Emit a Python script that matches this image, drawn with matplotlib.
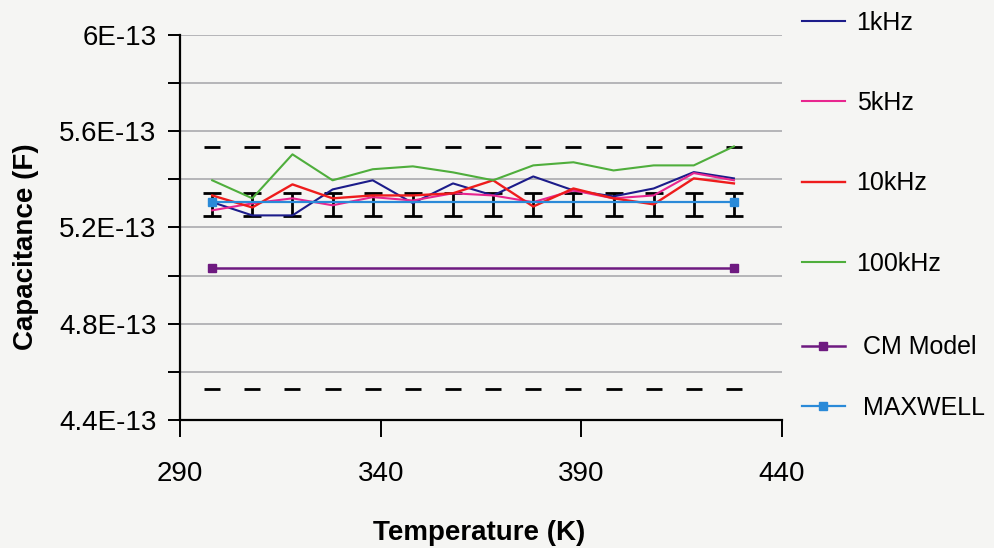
import numpy as np
import matplotlib
matplotlib.use("Agg")
import matplotlib.pyplot as plt

plt.rcParams['font.family'] = ['Liberation Sans', 'DejaVu Sans']

# temperature points (K)
temps = [298, 308, 318, 328, 338, 348, 358, 368, 378, 388, 398, 408, 418, 428]

# capacitance in units of 1E-13 F
c_1k = [5.305, 5.25, 5.25, 5.358, 5.396, 5.301, 5.383, 5.333, 5.412, 5.354, 5.329, 5.362, 5.430, 5.404]
c_5k = [5.271, 5.300, 5.321, 5.292, 5.326, 5.312, 5.342, 5.333, 5.305, 5.354, 5.321, 5.333, 5.426, 5.396]
c_10k = [5.333, 5.283, 5.379, 5.321, 5.333, 5.333, 5.342, 5.396, 5.287, 5.362, 5.321, 5.296, 5.404, 5.383]
c_100k = [5.396, 5.321, 5.504, 5.396, 5.442, 5.454, 5.429, 5.396, 5.458, 5.471, 5.437, 5.458, 5.458, 5.537]

cm_temps = [298, 428]
cm_model = [5.03, 5.03]
maxwell_temps = [298, 428]
maxwell = [5.305, 5.305]

err_center = 5.295
err_half = 0.048
band_upper = 5.533   # CM model +10%
band_lower = 4.527   # CM model -10%

yticks = [4.4, 4.8, 5.2, 5.6, 6.0]
ytick_labels = ['4.4E-13', '4.8E-13', '5.2E-13', '5.6E-13', '6E-13']
yminor = [4.6, 5.0, 5.4, 5.8]
xticks = [290, 340, 390, 440]

scale = 1e-13
bg = '#f5f5f3'

fig = plt.figure(figsize=(9.95, 5.48), dpi=100, facecolor=bg)
ax = fig.add_axes([0.181, 0.234, 0.605, 0.702], facecolor=bg)

def s(v):
    return np.array(v) * scale

ax.plot(temps, s(c_1k), color='#1c1c8a', lw=1.5, label='1kHz', zorder=4)
ax.plot(temps, s(c_5k), color='#e8268f', lw=1.5, label='5kHz', zorder=4)
ax.plot(temps, s(c_10k), color='#ee1c1c', lw=1.7, label='10kHz', zorder=4)
ax.plot(temps, s(c_100k), color='#4fae3c', lw=1.5, label='100kHz', zorder=4)
ax.plot(cm_temps, s(cm_model), color='#6e1a80', lw=1.8, marker='s', ms=6,
        label='CM Model', zorder=4)
ax.plot(maxwell_temps, s(maxwell), color='#2a8ad8', lw=1.6, marker='s', ms=6,
        label='MAXWELL', zorder=5)

# error bars around the MAXWELL value
ax.errorbar(temps, s([err_center] * len(temps)), yerr=err_half * scale, fmt='none',
            ecolor='black', elinewidth=2, capsize=6.5, capthick=2, zorder=3)

# +/-10% limits drawn as dash markers
ax.plot(temps, s([band_upper] * len(temps)), ls='none', marker='_', ms=11, mew=2,
        color='black', zorder=3)
ax.plot(temps, s([band_lower] * len(temps)), ls='none', marker='_', ms=11, mew=2,
        color='black', zorder=3)

ax.set_xlim(290, 440)
ax.set_ylim(4.4 * scale, 6.0 * scale)
ax.set_xticks(xticks)
ax.set_xticklabels([str(t) for t in xticks])
ax.set_yticks(s(yticks))
ax.set_yticklabels(ytick_labels)
ax.set_yticks(s(yminor), minor=True)
ax.grid(True, axis='y', which='both', color='#a3a3a8', lw=1.1)
ax.set_axisbelow(True)

for side in ['top', 'right']:
    ax.spines[side].set_visible(False)
for side in ['left', 'bottom']:
    ax.spines[side].set_linewidth(1.6)
    ax.spines[side].set_color('black')

ax.tick_params(axis='y', which='both', direction='out', length=9, width=1.4,
               labelsize=20, pad=8)
ax.tick_params(axis='x', direction='out', length=12, width=1.4, labelsize=20, pad=18)

ax.set_xlabel('Temperature (K)', fontsize=20, fontweight='bold')
ax.set_ylabel('Capacitance (F)', fontsize=20, fontweight='bold')
ax.xaxis.set_label_coords(0.497, -0.26)
ax.yaxis.set_label_coords(-0.235, 0.45)

handles, labels = ax.get_legend_handles_labels()
leg1 = fig.legend(handles[:4], labels[:4], loc='upper left', bbox_to_anchor=(0.788, 1.012),
                  frameon=False, fontsize=18, handlelength=1.75, handletextpad=0.45,
                  labelspacing=2.25, borderpad=0.2)
leg2 = fig.legend(handles[4:], labels[4:], loc='upper left', bbox_to_anchor=(0.788, 0.42),
                  frameon=False, fontsize=18, handlelength=1.75, handletextpad=0.7,
                  labelspacing=1.45, borderpad=0.2)

fig.savefig('out.png', dpi=100, facecolor=bg)
